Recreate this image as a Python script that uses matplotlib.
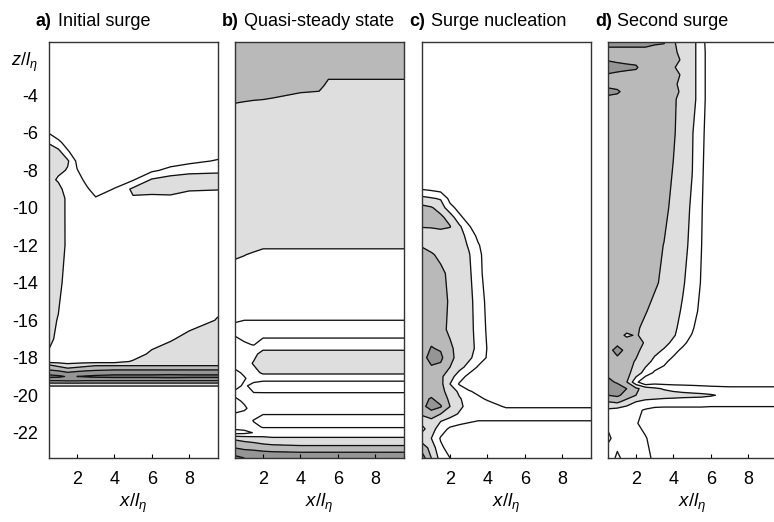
import numpy as np
import matplotlib.pyplot as plt

plt.rcParams['font.family'] = ['Liberation Sans', 'DejaVu Sans']
plt.rcParams['mathtext.fontset'] = 'custom'
plt.rcParams['mathtext.it'] = 'Liberation Sans:italic'
plt.rcParams['mathtext.rm'] = 'Liberation Sans'
plt.rcParams['axes.unicode_minus'] = False

# ---- data: contour level index ----
TAGS = ["a)", "b)", "c)", "d)"]
NAMES = ["Initial surge", "Quasi-steady state", "Surge nucleation", "Second surge"]
Z_TICKS = [-4, -6, -8, -10, -12, -14, -16, -18, -20, -22]
X_TICKS = [2, 4, 6, 8]

# a) Initial surge
xa = [0.5, 1.0, 1.5, 2.0, 2.5, 3.0, 4.0, 5.0, 6.0, 7.0, 8.0, 9.55]
za = [-1.15, -5.5, -6.0, -6.5, -7.0, -7.5, -8.0, -8.5, -9.0, -9.5, -10.0, -12.0, -14.0,
      -16.0, -17.0, -17.8, -18.2, -18.4, -18.6, -18.8, -19.0, -19.2, -19.4, -19.6, -23.35]
va = [
    [0.5, 0.5, 0.5, 0.5, 0.5, 0.5, 0.5, 0.5, 0.5, 0.5, 0.5, 0.5],
    [0.5, 0.5, 0.5, 0.5, 0.5, 0.5, 0.5, 0.5, 0.5, 0.5, 0.5, 0.5],
    [0.95, 0.5, 0.5, 0.5, 0.5, 0.5, 0.5, 0.5, 0.5, 0.5, 0.5, 0.5],
    [1.9, 1.2, 0.6, 0.5, 0.5, 0.5, 0.5, 0.5, 0.5, 0.5, 0.5, 0.5],
    [2.5, 2.3, 1.1, 0.5, 0.5, 0.5, 0.5, 0.5, 0.5, 0.5, 0.5, 0.5],
    [2.5, 2.5, 2.15, 0.8, 0.5, 0.5, 0.5, 0.5, 0.5, 0.5, 0.7, 1.1],
    [2.5, 2.3, 1.9, 1.05, 0.5, 0.5, 0.5, 0.5, 0.8, 1.3, 1.7, 1.8],
    [2.5, 1.8, 1.5, 1.5, 0.7, 0.5, 0.5, 0.9, 2.1, 2.5, 2.5, 2.5],
    [2.5, 2.5, 1.25, 1.5, 1.2, 0.5, 1.05, 2.2, 2.4, 2.5, 2.1, 2.05],
    [2.5, 2.5, 1.79, 1.5, 1.5, 1.1, 1.5, 1.9, 1.7, 1.7, 1.6, 1.5],
    [2.5, 2.5, 1.79, 1.5, 1.5, 1.5, 1.5, 1.5, 1.5, 1.5, 1.5, 1.5],
    [2.5, 2.5, 1.8, 1.5, 1.5, 1.5, 1.5, 1.5, 1.5, 1.5, 1.5, 1.5],
    [2.5, 2.5, 1.25, 1.5, 1.5, 1.5, 1.5, 1.5, 1.5, 1.5, 1.5, 1.5],
    [2.5, 1.9, 1.5, 1.5, 1.5, 1.5, 1.5, 1.5, 1.5, 1.5, 1.6, 2.05],
    [2.4, 1.6, 1.5, 1.5, 1.5, 1.5, 1.5, 1.5, 1.5, 1.9, 2.3, 2.5],
    [1.8, 1.5, 1.5, 1.5, 1.5, 1.5, 1.5, 1.5, 2.2, 2.5, 2.5, 2.5],
    [1.6, 1.6, 1.6, 1.6, 1.6, 1.6, 1.6, 2.1, 2.5, 2.5, 2.5, 2.5],
    [3.1, 2.7, 2.3, 2.5, 2.7, 2.9, 2.9, 2.9, 2.9, 2.9, 2.9, 2.9],
    [3.8, 3.6, 3.2, 3.4, 3.6, 3.7, 3.8, 3.8, 3.8, 3.8, 3.8, 3.8],
    [4.6, 4.4, 4.1, 4.3, 4.4, 4.5, 4.6, 4.6, 4.6, 4.6, 4.6, 4.6],
    [5.3, 5.2, 4.9, 5.0, 5.1, 5.2, 5.3, 5.3, 5.3, 5.4, 5.3, 5.3],
    [4.2, 4.2, 4.3, 4.3, 4.2, 4.2, 4.2, 4.2, 4.2, 4.2, 4.2, 4.2],
    [2.6, 2.6, 2.6, 2.6, 2.6, 2.6, 2.6, 2.6, 2.6, 2.6, 2.6, 2.6],
    [1.5, 1.5, 1.5, 1.5, 1.5, 1.5, 1.5, 1.5, 1.5, 1.5, 1.5, 1.5],
    [1.5, 1.5, 1.5, 1.5, 1.5, 1.5, 1.5, 1.5, 1.5, 1.5, 1.5, 1.5],
]

# b) Quasi-steady state
xb = [0.5, 1.0, 1.5, 2.0, 2.5, 4.0, 5.0, 5.5, 7.5, 9.55]
zb = [-1.15, -3.0, -3.5, -4.0, -4.5, -8.0, -12.0, -12.5, -13.0, -15.5, -16.5, -17.3, -17.8,
      -18.3, -18.8, -19.1, -19.5, -19.9, -20.3, -20.7, -21.0, -21.35, -21.7, -22.0, -22.3,
      -22.6, -22.9, -23.1, -23.35]
vb = [
    [3.5, 3.5, 3.5, 3.5, 3.5, 3.5, 3.5, 3.5, 3.5, 3.5],
    [3.5, 3.5, 3.5, 3.5, 3.5, 3.5, 3.5, 3.2, 3.2, 3.2],
    [3.5, 3.5, 3.5, 3.5, 3.5, 3.5, 3.5, 2.5, 2.5, 2.5],
    [3.5, 3.5, 3.5, 3.4, 3.2, 2.8, 2.6, 2.5, 2.5, 2.5],
    [2.9, 2.75, 2.55, 2.5, 2.5, 2.5, 2.5, 2.5, 2.5, 2.5],
    [2.5, 2.5, 2.5, 2.5, 2.5, 2.5, 2.5, 2.5, 2.5, 2.5],
    [2.5, 2.5, 2.5, 2.3, 2.3, 2.3, 2.3, 2.3, 2.3, 2.3],
    [2.2, 2.05, 1.8, 1.5, 1.5, 1.5, 1.5, 1.5, 1.5, 1.5],
    [1.8, 1.6, 1.5, 1.5, 1.5, 1.5, 1.5, 1.5, 1.5, 1.5],
    [1.5, 1.5, 1.5, 1.5, 1.5, 1.5, 1.5, 1.5, 1.5, 1.5],
    [0.7, 0.5, 0.5, 0.5, 0.5, 0.5, 0.5, 0.5, 0.5, 0.5],
    [1.39, 1.12, 0.96, 1.39, 1.39, 1.39, 1.39, 1.39, 1.39, 1.39],
    [1.5, 1.5, 1.7, 2.41, 2.41, 2.41, 2.41, 2.41, 2.41, 2.41],
    [1.5, 1.5, 2.1, 2.6, 2.6, 2.6, 2.6, 2.6, 2.6, 2.6],
    [0.7, 1.2, 1.6, 2.2, 2.2, 2.2, 2.2, 2.2, 2.2, 2.2],
    [0.5, 0.9, 1.5, 1.3, 1.3, 1.3, 1.3, 1.3, 1.3, 1.3],
    [0.6, 1.2, 0.6, 0.5, 0.5, 0.5, 0.5, 0.5, 0.5, 0.5],
    [1.3, 1.5, 1.05, 1.05, 1.05, 1.05, 1.05, 1.05, 1.05, 1.05],
    [0.7, 1.2, 1.5, 1.5, 1.5, 1.5, 1.5, 1.5, 1.5, 1.5],
    [0.5, 0.8, 1.5, 1.5, 1.5, 1.5, 1.5, 1.5, 1.5, 1.5],
    [1.1, 1.3, 1.5, 1.05, 1.05, 1.05, 1.05, 1.05, 1.05, 1.05],
    [1.5, 1.5, 0.95, 0.5, 0.5, 0.5, 0.5, 0.5, 0.5, 0.5],
    [1.3, 1.4, 1.2, 0.95, 0.95, 0.95, 0.95, 0.95, 0.95, 0.95],
    [0.6, 0.7, 1.05, 1.5, 1.5, 1.5, 1.5, 1.5, 1.5, 1.5],
    [2.8, 2.6, 2.4, 2.2, 2.1, 2.1, 2.1, 2.1, 2.1, 2.1],
    [3.5, 3.3, 3.2, 3.0, 2.9, 2.8, 2.8, 2.8, 2.8, 2.8],
    [4.2, 4.0, 3.9, 3.7, 3.6, 3.5, 3.5, 3.5, 3.5, 3.5],
    [4.8, 4.6, 4.5, 4.4, 4.3, 4.2, 4.2, 4.2, 4.2, 4.2],
    [5.2, 5.0, 4.9, 4.8, 4.7, 4.6, 4.6, 4.6, 4.6, 4.6],
]

# c) Surge nucleation
xc = [0.5, 1.0, 1.5, 2.0, 2.5, 3.0, 3.5, 4.0, 5.0, 7.0, 9.55]
zc = [-1.15, -8.5, -9.0, -9.5, -10.0, -10.5, -11.0, -11.5, -12.0, -12.5, -13.5, -15.0, -16.5,
      -17.5, -18.0, -18.5, -19.0, -19.4, -19.8, -20.2, -20.6, -21.0, -21.4, -21.8, -22.3,
      -22.8, -23.35]
vc = [
    [0.5, 0.5, 0.5, 0.5, 0.5, 0.5, 0.5, 0.5, 0.5, 0.5, 0.5],
    [0.5, 0.5, 0.5, 0.5, 0.5, 0.5, 0.5, 0.5, 0.5, 0.5, 0.5],
    [0.95, 0.8, 0.6, 0.5, 0.5, 0.5, 0.5, 0.5, 0.5, 0.5, 0.5],
    [2.3, 2.1, 1.9, 0.7, 0.5, 0.5, 0.5, 0.5, 0.5, 0.5, 0.5],
    [3.3, 3.1, 2.6, 1.3, 0.7, 0.5, 0.5, 0.5, 0.5, 0.5, 0.5],
    [3.6, 3.5, 3.2, 2.6, 1.2, 0.6, 0.5, 0.5, 0.5, 0.5, 0.5],
    [3.05, 3.1, 3.2, 3.05, 2.2, 1.1, 0.5, 0.5, 0.5, 0.5, 0.5],
    [2.5, 2.4, 2.5, 2.5, 2.5, 1.6, 0.8, 0.5, 0.5, 0.5, 0.5],
    [2.9, 2.7, 2.5, 2.5, 2.5, 1.9, 1.1, 0.5, 0.5, 0.5, 0.5],
    [3.4, 3.1, 2.8, 2.5, 2.5, 2.1, 1.3, 0.5, 0.5, 0.5, 0.5],
    [3.5, 3.5, 3.2, 2.8, 2.5, 2.2, 1.4, 0.5, 0.5, 0.5, 0.5],
    [3.5, 3.5, 3.3, 2.9, 2.5, 2.3, 1.6, 0.74, 0.5, 0.5, 0.5],
    [3.5, 3.6, 3.3, 2.8, 2.5, 2.3, 1.7, 0.85, 0.5, 0.5, 0.5],
    [3.6, 4.05, 3.9, 3.2, 2.6, 2.3, 1.8, 0.95, 0.5, 0.5, 0.5],
    [3.6, 4.4, 4.2, 3.3, 2.6, 2.2, 1.6, 0.9, 0.5, 0.5, 0.5],
    [3.5, 3.9, 3.8, 3.0, 2.3, 1.7, 0.9, 0.5, 0.5, 0.5, 0.5],
    [3.5, 3.6, 3.2, 2.4, 1.5, 0.7, 0.5, 0.5, 0.5, 0.5, 0.5],
    [3.6, 3.5, 3.3, 2.0, 0.9, 0.5, 0.5, 0.5, 0.5, 0.5, 0.5],
    [3.6, 3.6, 3.3, 2.6, 1.8, 1.1, 0.8, 0.5, 0.5, 0.5, 0.5],
    [3.7, 4.1, 3.6, 2.8, 2.1, 1.6, 1.2, 0.9, 0.5, 0.5, 0.5],
    [3.8, 4.3, 4.1, 3.0, 2.2, 1.7, 1.5, 1.4, 0.9, 0.9, 0.9],
    [3.2, 3.7, 3.0, 2.4, 1.9, 1.6, 1.5, 1.5, 1.5, 1.5, 1.5],
    [2.2, 2.6, 2.0, 1.6, 1.3, 1.1, 0.95, 0.95, 0.95, 0.95, 0.95],
    [1.8, 2.4, 1.5, 0.8, 0.6, 0.5, 0.5, 0.5, 0.5, 0.5, 0.5],
    [2.4, 2.0, 0.9, 0.5, 0.5, 0.5, 0.5, 0.5, 0.5, 0.5, 0.5],
    [3.6, 2.6, 1.2, 0.6, 0.5, 0.5, 0.5, 0.5, 0.5, 0.5, 0.5],
    [4.5, 3.0, 1.6, 1.0, 0.5, 0.5, 0.5, 0.5, 0.5, 0.5, 0.5],
]

# d) Second surge
xd = [0.5, 1.0, 1.5, 2.0, 2.5, 3.0, 3.5, 4.0, 4.5, 5.0, 5.5, 6.0, 7.0, 9.55]
zd = [-1.15, -1.7, -2.1, -2.5, -2.9, -3.4, -3.8, -4.2, -6.0, -8.0, -10.0, -12.0, -14.0,
      -15.5, -16.4, -16.8, -17.2, -17.6, -18.2, -18.8, -19.3, -19.65, -20.0, -20.35,
      -20.8, -21.5, -22.3, -23.35]
vd = [
    [4.5, 4.5, 4.5, 4.5, 4.5, 4.2, 4.1, 3.2, 2.2, 2.1, 1.85, -0.5, 0.5, 0.5],
    [3.5, 3.5, 3.5, 3.5, 3.5, 3.5, 3.5, 3.4, 2.4, 2.2, 1.7, 0.0, 0.5, 0.5],
    [3.9, 3.7, 3.5, 3.5, 3.5, 3.5, 3.5, 3.47, 2.8, 2.2, 1.7, 0.0, 0.5, 0.5],
    [4.6, 4.5, 4.4, 4.2, 3.2, 3.5, 3.5, 3.15, 2.4, 2.2, 1.7, 0.0, 0.5, 0.5],
    [3.9, 3.7, 3.5, 3.5, 3.5, 3.5, 3.5, 3.47, 2.8, 2.2, 1.7, 0.0, 0.5, 0.5],
    [3.5, 3.5, 3.5, 3.5, 3.5, 3.5, 3.5, 3.4, 2.4, 2.2, 1.7, 0.0, 0.5, 0.5],
    [4.5, 4.2, 3.5, 3.5, 3.5, 3.5, 3.5, 3.6, 2.6, 2.2, 1.7, 0.0, 0.5, 0.5],
    [3.5, 3.5, 3.5, 3.5, 3.5, 3.5, 3.5, 3.26, 2.4, 2.2, 1.7, 0.0, 0.5, 0.5],
    [3.5, 3.5, 3.5, 3.5, 3.5, 3.5, 3.5, 3.15, 2.4, 2.05, 1.55, -0.3, 0.5, 0.5],
    [3.5, 3.5, 3.5, 3.5, 3.5, 3.5, 3.5, 2.94, 2.5, 2.02, 1.5, -1.0, 0.5, 0.5],
    [3.5, 3.5, 3.5, 3.5, 3.5, 3.5, 3.5, 2.5, 2.3, 1.9, 1.1, 0.1, 0.5, 0.5],
    [3.5, 3.5, 3.5, 3.5, 3.5, 3.5, 2.95, 2.6, 2.3, 1.75, 1.02, 0.3, 0.5, 0.5],
    [3.5, 3.5, 3.5, 3.5, 3.5, 3.2, 2.7, 2.5, 2.1, 1.6, 0.93, 0.5, 0.5, 0.5],
    [3.5, 3.5, 3.5, 3.5, 3.1, 2.6, 2.5, 2.3, 1.9, 1.5, 0.67, 0.5, 0.5, 0.5],
    [3.5, 3.5, 3.5, 3.2, 2.7, 2.6, 2.4, 2.2, 1.7, 1.2, 0.2, 0.5, 0.5, 0.5],
    [3.5, 3.5, 2.8, 3.1, 2.7, 2.5, 2.3, 2.1, 1.6, 0.93, 0.5, 0.5, 0.5, 0.5],
    [3.5, 3.7, 3.6, 3.4, 2.9, 2.6, 2.3, 1.8, 1.4, 0.4, 0.5, 0.5, 0.5, 0.5],
    [3.6, 4.4, 3.7, 3.3, 2.55, 2.3, 1.9, 1.5, 0.67, 0.5, 0.5, 0.5, 0.5, 0.5],
    [3.7, 3.6, 3.4, 2.9, 2.4, 1.73, 1.3, 0.55, 0.5, 0.5, 0.5, 0.5, 0.5, 0.5],
    [3.8, 3.8, 3.3, 2.55, 1.63, 0.84, 0.5, 0.5, 0.5, 0.5, 0.5, 0.5, 0.5, 0.5],
    [4.2, 3.9, 3.05, 1.3, 0.0, 0.5, 0.5, 0.5, 0.5, 0.5, 0.5, 0.5, 0.5, 0.5],
    [4.3, 4.4, 4.0, 3.2, 2.6, 2.2, 1.9, 1.7, 1.6, 1.5, 1.4, 1.3, 1.2, 1.2],
    [4.0, 4.2, 3.6, 3.0, 2.7, 2.6, 2.5, 2.4, 2.3, 2.25, 2.2, 2.1, 1.7, 1.5],
    [3.0, 3.2, 2.6, 2.0, 1.7, 1.6, 1.5, 1.5, 1.5, 1.5, 1.5, 1.4, 1.4, 1.4],
    [1.8, 1.6, 1.4, 1.2, 0.9, 0.7, 0.7, 0.7, 0.7, 0.7, 0.7, 0.7, 0.7, 0.7],
    [1.2, 1.5, 1.3, 1.1, 0.6, 0.5, 0.5, 0.5, 0.5, 0.5, 0.5, 0.5, 0.5, 0.5],
    [0.8, 1.4, 1.5, 1.3, 1.1, 0.5, 0.5, 0.5, 0.5, 0.5, 0.5, 0.5, 0.5, 0.5],
    [1.6, 0.8, 1.4, 1.6, 1.3, 0.8, 0.5, 0.5, 0.5, 0.5, 0.5, 0.5, 0.5, 0.5],
]

PANELS = [(xa, za, va), (xb, zb, vb), (xc, zc, vc), (xd, zd, vd)]

LINE_LEVELS = [1, 2, 3, 4, 5, 6, 7]
FILL_LEVELS = [-10, 1, 2, 3, 4, 5, 6, 7, 20]
FILL_COLORS = ["white", "white", "#dedede", "#b9b9b9", "#959595", "#727272",
               "#555555", "#3a3a3a"]

W, H = 774, 522
fig = plt.figure(figsize=(W / 100, H / 100), dpi=100)

lefts = [49, 235, 422, 608]
ax_w, ax_top, ax_bot = 169, 42, 458

for i, (x, z, v) in enumerate(PANELS):
    ax = fig.add_axes([lefts[i] / W, 1 - ax_bot / H, ax_w / W, (ax_bot - ax_top) / H])
    X, Z = np.meshgrid(x, z)
    V = np.array(v)
    ax.contourf(X, Z, V, levels=FILL_LEVELS, colors=FILL_COLORS)
    ax.contour(X, Z, V, levels=LINE_LEVELS, colors="#111111", linewidths=0.95)
    ax.set_xlim(0.5, 9.55)
    ax.set_ylim(-23.35, -1.15)
    for s in ax.spines.values():
        s.set_color("#333333")
        s.set_linewidth(1.0)
    ax.set_xticks(X_TICKS)
    ax.set_xticklabels([str(t) for t in X_TICKS], fontsize=13)
    ax.tick_params(axis="x", direction="in", length=3, width=0.8, pad=9)
    ax.set_xlabel(r"$x/l_\eta$", fontsize=13.5, labelpad=3)
    if i == 0:
        ax.set_yticks([-2] + Z_TICKS)
        ax.set_yticklabels([r"$z/l_\eta$"] + [str(t) for t in Z_TICKS], fontsize=13)
        ax.tick_params(axis="y", length=0, pad=8)
    else:
        ax.set_yticks([])

    # panel heading: bold tag then name
    tx = (lefts[i] - 13) / W
    fig.text(tx, 1 - 21 / H, TAGS[i], fontsize=13, fontweight="bold", va="center")
    fig.text(tx + 22 / W, 1 - 21 / H, NAMES[i], fontsize=13, va="center")

fig.savefig("out.png", dpi=100)
